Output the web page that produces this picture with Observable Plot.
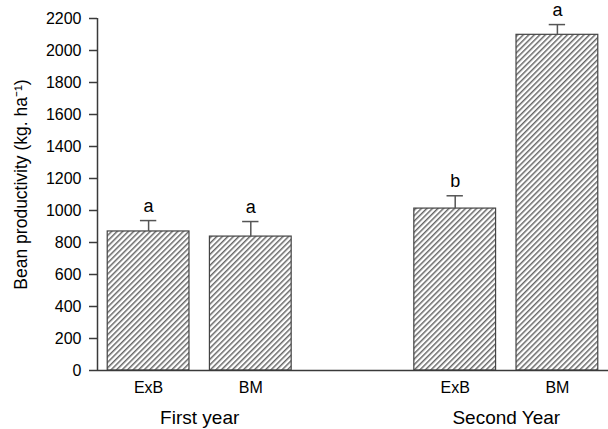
<!DOCTYPE html>
<html>
<head>
<meta charset="utf-8">
<script src="https://cdn.jsdelivr.net/npm/d3@7"></script>
<script src="https://cdn.jsdelivr.net/npm/@observablehq/plot@0.6"></script>
<style>
  html, body { margin: 0; padding: 0; background: #fff; }
  #chart { width: 608px; height: 429px; }
</style>
</head>
<body>
<div id="chart"></div>
<script>
// Data
const treatments = ["ExB", "BM", "ExB", "BM"];
const years = ["First year", "First year", "Second Year", "Second Year"];
const slots = [0, 1, 3, 4];           // slot 2 is the empty gap between the years
const means = [869, 837, 1012, 2098];
const tops = [937, 931, 1092, 2162];  // mean + error
const letters = ["a", "a", "b", "a"];
const yTicks = [0, 200, 400, 600, 800, 1000, 1200, 1400, 1600, 1800, 2000, 2200];
const yLabel = "Bean productivity (kg. ha\u207B\u00B9)";

const bars = treatments.map((t, i) => ({
  treatment: t, year: years[i], slot: slots[i], mean: means[i], top: tops[i], letter: letters[i]
}));
const groupNames = Array.from(new Set(years));
const groups = groupNames.map(g => {
  const s = bars.filter(b => b.year === g).map(b => b.slot + 0.5);
  return {name: g, center: d3.mean(s)};
});

const axisColor = "#3a3a3a";
const font = "'Liberation Sans', Arial, Helvetica, sans-serif";

const plot = Plot.plot({
  width: 608,
  height: 429,
  marginLeft: 97,
  marginRight: 0,
  marginTop: 18,
  marginBottom: 59,
  style: {fontFamily: font, fontSize: "16px", background: "#fff", color: "#000"},
  x: {domain: [0, 5], axis: null},
  y: {domain: [0, 2200], axis: null},
  marks: [
    Plot.rectY(bars, {
      x1: d => d.slot + 0.1, x2: d => d.slot + 0.9, y: "mean",
      fill: "url(#hatch)", stroke: "#444", strokeWidth: 1.2
    }),
    Plot.ruleX(bars, {x: d => d.slot + 0.5, y1: "mean", y2: "top", stroke: "#555", strokeWidth: 1.5}),
    Plot.ruleY(bars, {y: "top", x1: d => d.slot + 0.42, x2: d => d.slot + 0.58, stroke: "#555", strokeWidth: 1.5}),
    Plot.text(bars, {
      x: d => d.slot + 0.5, y: "top", text: "letter", lineAnchor: "bottom", dy: -9, fontSize: 18, fill: "#000"
    }),
    Plot.ruleX([0], {stroke: axisColor, strokeWidth: 1.5}),
    Plot.ruleY([0], {stroke: axisColor, strokeWidth: 1.5}),
    Plot.axisY({ticks: yTicks, tickFormat: d3.format("d"), tickSize: 8, tickPadding: 8, fontSize: 16, label: null, stroke: axisColor, strokeWidth: 1.5}),
    Plot.text(bars, {
      x: d => d.slot + 0.5, text: "treatment", frameAnchor: "bottom", lineAnchor: "middle", dy: 17, fontSize: 16, fill: "#000"
    }),
    Plot.text(groups, {
      x: "center", text: "name", frameAnchor: "bottom", lineAnchor: "middle", dy: 47, fontSize: 19, fill: "#000"
    }),
    Plot.text([yLabel], {
      text: d => d, frameAnchor: "left", textAnchor: "middle", rotate: -90, lineAnchor: "middle", dx: -76, dy: -10, fontSize: 17.5, fill: "#000"
    })
  ]
});

const svg = d3.select(plot);
const defs = svg.insert("defs", ":first-child");
const pat = defs.append("pattern")
  .attr("id", "hatch")
  .attr("patternUnits", "userSpaceOnUse")
  .attr("width", 3.9)
  .attr("height", 3.9)
  .attr("patternTransform", "rotate(45)");
pat.append("rect").attr("width", 3.9).attr("height", 3.9).attr("fill", "#fff");
pat.append("line")
  .attr("x1", 0.8).attr("y1", 0).attr("x2", 0.8).attr("y2", 3.9)
  .attr("stroke", "#333").attr("stroke-width", 1.1);

document.getElementById("chart").appendChild(plot);
</script>
</body>
</html>
